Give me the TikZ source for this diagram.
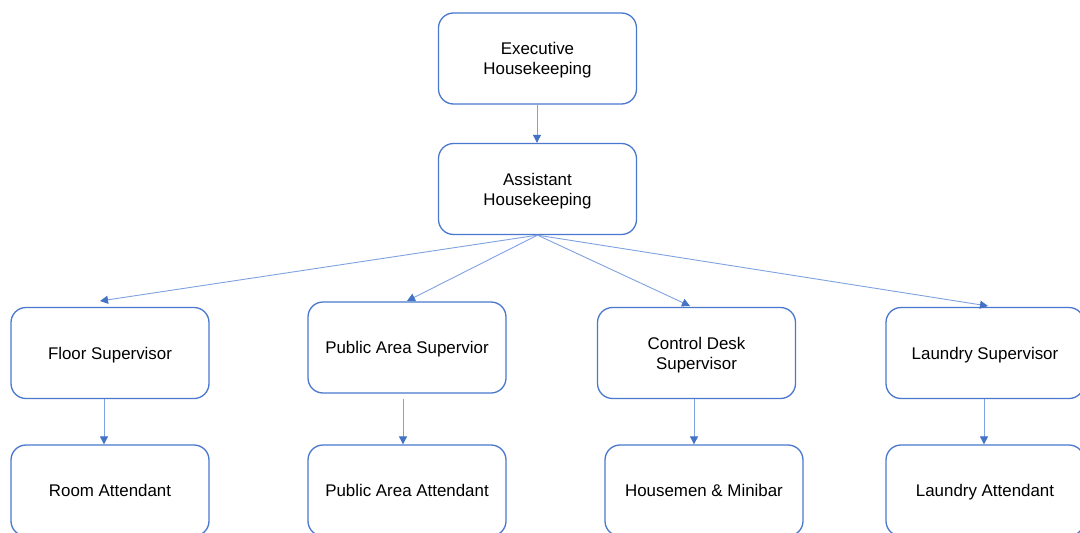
\documentclass[tikz,border=0pt]{standalone}
\usepackage{fontspec}
\setmainfont{Liberation Sans}
\usetikzlibrary{arrows.meta}
\definecolor{boxblue}{HTML}{4A78CF}
\definecolor{lineblue}{HTML}{7FA2E0}
\definecolor{tipblue}{HTML}{4472C4}
\begin{document}
\begin{tikzpicture}[x=1pt,y=-1pt,
  box/.style={draw=boxblue, line width=1.3pt, rounded corners=15pt, fill=white,
    minimum width=198pt, minimum height=91pt, align=center, inner sep=2pt,
    font=\fontsize{16.9}{20}\selectfont, text height=12pt, text depth=0pt},
  box2/.style={box, text height=32pt, text depth=0pt},
  conn/.style={draw=lineblue, line width=0.9pt,
    -{Triangle[length=8pt,width=8pt,fill=tipblue,color=tipblue]}}]
\useasboundingbox[fill=white] (0,0) rectangle (1080,533);
\node[box2] (exec) at (537.5,58.5) {Executive\\Housekeeping};
\node[box2] (assist) at (537.5,189) {Assistant\\Housekeeping};
\node[box] (floor) at (110,353) {Floor Supervisor};
\node[box] (pubsup) at (407,347.5) {Public Area Supervior};
\node[box2] (ctrl) at (696.5,353) {Control Desk\\Supervisor};
\node[box] (lsup) at (985,353) {Laundry Supervisor};
\node[box] (room) at (110,490.5) {Room Attendant};
\node[box] (pubatt) at (407,490.5) {Public Area Attendant};
\node[box] (house) at (704,490.5) {Housemen \& Minibar};
\node[box] (latt) at (985,490.5) {Laundry Attendant};
\coordinate (tf) at (100,301);
\coordinate (tp) at (407,301);
\coordinate (tc) at (690,306);
\coordinate (tl) at (988,306);
\draw[conn] ([xshift=-0.5pt]exec.south) -- ([xshift=-0.5pt]assist.north);
\draw[conn] (assist.south) -- (tf);
\draw[conn] (assist.south) -- (tp);
\draw[conn] (assist.south) -- (tc);
\draw[conn] (assist.south) -- (tl);
\draw[conn] ([xshift=-6pt]floor.south) -- ([xshift=-6pt]room.north);
\draw[conn] ([xshift=-4pt,yshift=-5pt]pubsup.south) -- ([xshift=-4pt]pubatt.north);
\draw[conn] ([xshift=-2.5pt]ctrl.south) -- ([xshift=-10pt]house.north);
\draw[conn] ([xshift=-1pt]lsup.south) -- ([xshift=-1pt]latt.north);
\end{tikzpicture}
\end{document}
